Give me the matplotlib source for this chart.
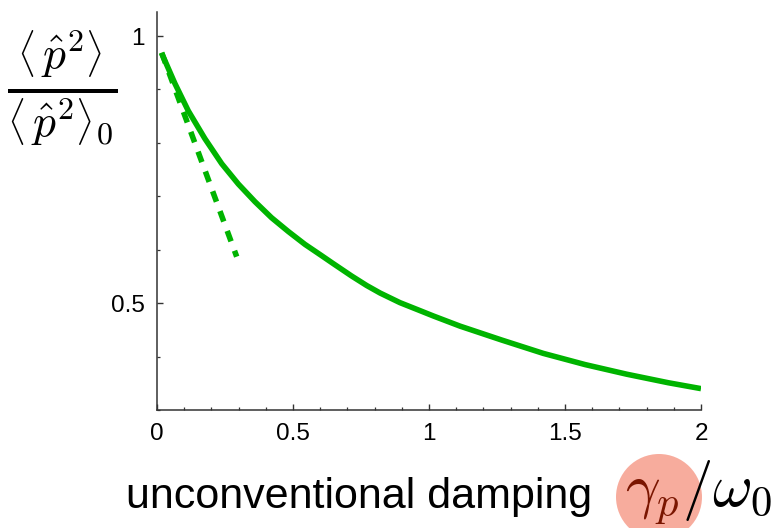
import matplotlib
matplotlib.use("Agg")
import matplotlib.pyplot as plt
from matplotlib.patches import Ellipse

# data
x_solid = [0.017, 0.066, 0.115, 0.176, 0.238, 0.299, 0.360, 0.421, 0.483, 0.544,
           0.605, 0.648, 0.715, 0.771, 0.82, 0.893, 0.967, 1.016, 1.114, 1.267,
           1.42, 1.574, 1.727, 1.880, 2.0]
y_solid = [0.968, 0.911, 0.860, 0.808, 0.761, 0.723, 0.690, 0.660, 0.634, 0.610,
           0.589, 0.574, 0.551, 0.533, 0.519, 0.501, 0.486, 0.476, 0.457, 0.431,
           0.406, 0.385, 0.367, 0.351, 0.340]
x_tangent = [0.017, 0.293]
y_tangent = [0.969, 0.587]
xticks = [0, 0.5, 1, 1.5, 2]
xticklabels = ["0", "0.5", "1", "1.5", "2"]
yticks = [0.5, 1]
yticklabels = ["0.5", "1"]

plt.rcParams['mathtext.fontset'] = 'cm'
plt.rcParams['font.family'] = ['Liberation Sans', 'DejaVu Sans']

W, H = 775, 528
fig = plt.figure(figsize=(W / 100, H / 100), dpi=100)
ax = fig.add_axes([157 / W, (H - 410) / H, (701 - 157) / W, (410 - 12) / H])

green = '#00b400'
ax.plot(x_solid, y_solid, color=green, lw=4.0, solid_capstyle='butt',
        solid_joinstyle='round')
ax.plot(x_tangent, y_tangent, color=green, lw=4.0, linestyle=(0, (2.0, 1.8)),
        dash_capstyle='butt')

ax.set_xlim(0, 2)
ax.set_ylim(0.3, 1.045)
ax.set_xticks(xticks)
ax.set_xticklabels(xticklabels)
ax.set_yticks(yticks)
ax.set_yticklabels(yticklabels)
ax.set_xticks([i / 10 for i in range(21)], minor=True)
ax.set_yticks([0.3 + i / 10 for i in range(8)], minor=True)

for s in ['top', 'right']:
    ax.spines[s].set_visible(False)
for s in ['left', 'bottom']:
    ax.spines[s].set_color('#333333')
    ax.spines[s].set_linewidth(1.1)

ax.tick_params(which='major', direction='in', length=4.5, width=1.0,
               color='#333333', labelsize=17.5, pad=9)
ax.tick_params(which='minor', direction='in', length=2.5, width=0.9,
               color='#333333')
ax.tick_params(axis='y', which='major', pad=9)

# y label (fraction) at top-left
fig.text(62 / W, 1 - 88 / H,
         r'$\frac{\left\langle\,\hat{p}^2\right\rangle}{\left\langle\,\hat{p}^2\right\rangle_0}$',
         fontsize=47, ha='center', va='center')

# x label
fig.text(126 / W, 1 - 508 / H, 'unconventional damping', fontsize=31,
         ha='left', va='baseline')
circ = Ellipse((659 / W, 1 - 497 / H), 86 / W, 86 / H, transform=fig.transFigure,
               facecolor='#f7a393', edgecolor='none', alpha=0.9)
fig.patches.append(circ)
fig.text(625 / W, 1 - 506 / H, r'$\gamma_p$', fontsize=44, color='#7a1500',
         ha='left', va='baseline')
fig.text(682 / W, 1 - 506 / H, r'$/\omega_0$', fontsize=44, color='black',
         ha='left', va='baseline')

fig.savefig('out.png', dpi=100)
